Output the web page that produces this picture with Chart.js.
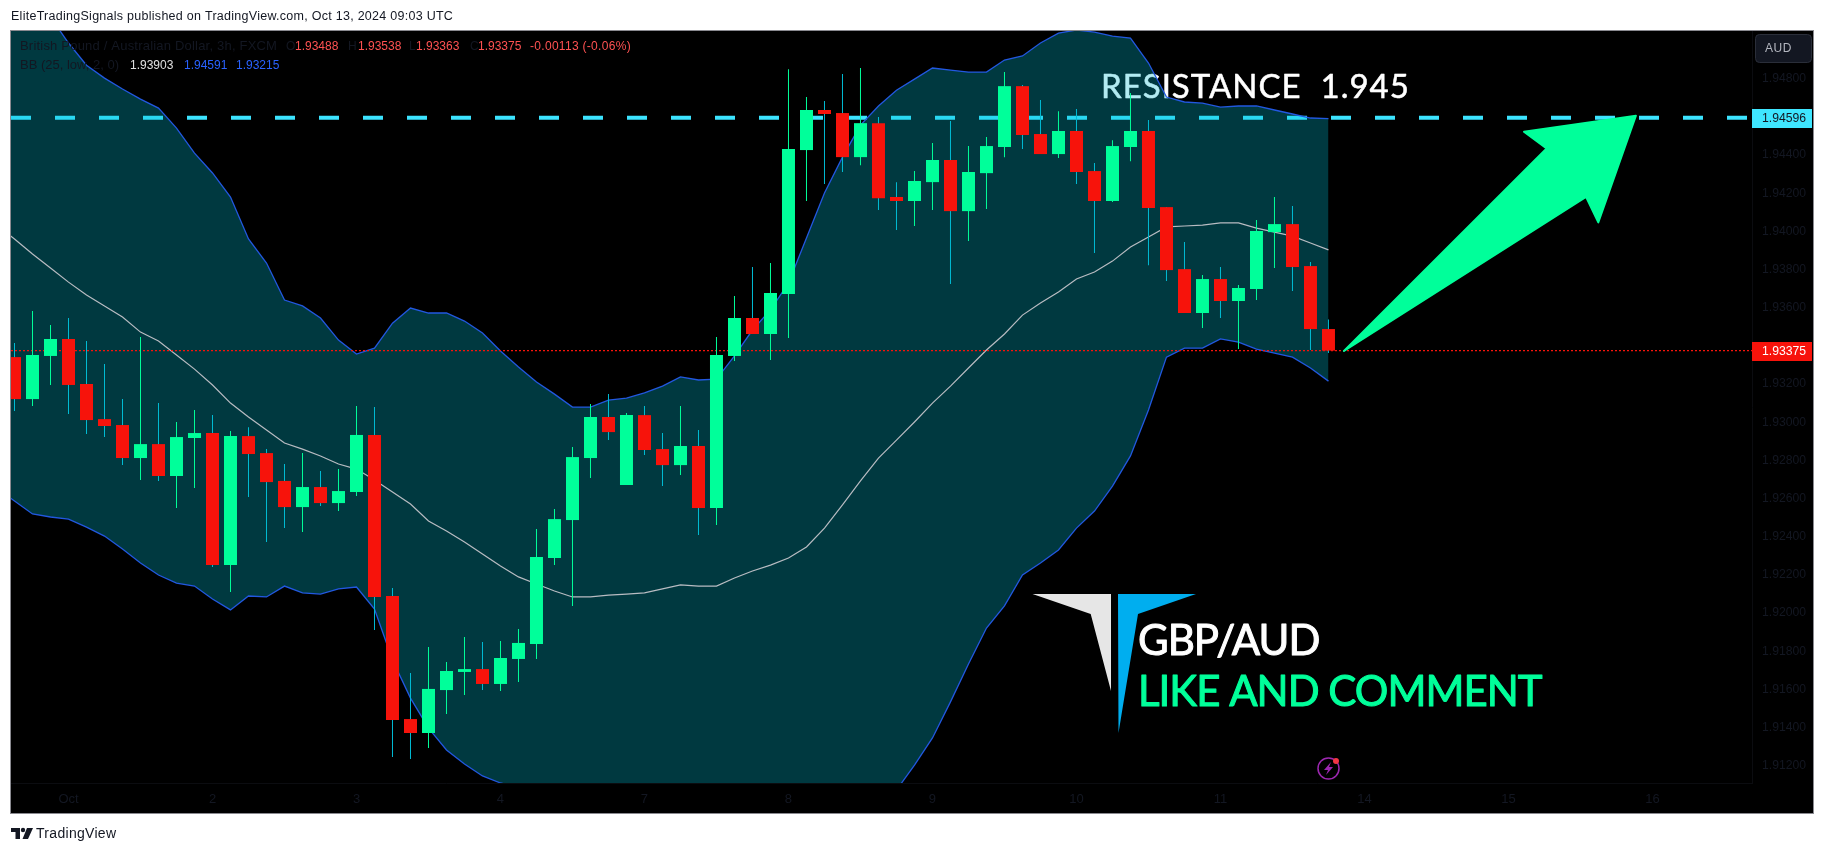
<!DOCTYPE html>
<html>
<head>
<meta charset="utf-8">
<title>GBP/AUD</title>
<script src="https://cdn.jsdelivr.net/npm/chart.js@4/dist/chart.umd.min.js"></script>
<style>
  html, body { margin: 0; padding: 0; background: #ffffff; }
  canvas { display: block; }
</style>
</head>
<body>
<canvas id="grafico" width="1825" height="853"></canvas>
<script>
var opens = [1.93341,1.93121,1.93347,1.93436,1.93200,1.93016,1.92985,1.92812,1.92885,1.92718,
  1.92917,1.92943,1.92251,1.92927,1.92838,1.92692,1.92555,1.92660,1.92576,1.92634,
  1.92933,1.92089,1.91444,1.91371,1.91596,1.91691,1.91706,1.91628,1.91759,1.91837,
  1.92288,1.92487,1.92812,1.93027,1.92671,1.93037,1.92859,1.92775,1.92875,1.92550,
  1.93347,1.93546,1.93462,1.93672,1.94426,1.94636,1.94620,1.94389,1.94567,1.94180,
  1.94159,1.94258,1.94374,1.94106,1.94305,1.94442,1.94761,1.94510,1.94405,1.94526,
  1.94316,1.94159,1.94442,1.94526,1.94127,1.93802,1.93572,1.93750,1.93635,1.93698,
  1.93996,1.94038,1.93818,1.93488]
var highs = [1.93415,1.93582,1.93509,1.93546,1.93425,1.93305,1.93121,1.93446,1.93100,1.93001,
  1.93064,1.93037,1.92954,1.92974,1.92859,1.92781,1.92838,1.92744,1.92754,1.93085,
  1.93079,1.92131,1.91686,1.91822,1.91743,1.91874,1.91848,1.91853,1.91916,1.92440,
  1.92545,1.92870,1.93095,1.93147,1.93048,1.93085,1.92943,1.93085,1.92959,1.93446,
  1.93661,1.93813,1.93834,1.94850,1.94704,1.94683,1.94824,1.94856,1.94599,1.94258,
  1.94316,1.94463,1.94578,1.94447,1.94494,1.94835,1.94767,1.94688,1.94630,1.94641,
  1.94358,1.94478,1.94725,1.94583,1.94127,1.93944,1.93771,1.93813,1.93719,1.94059,
  1.94180,1.94133,1.93839,1.93538]
var lows = [1.93058,1.93085,1.93195,1.93043,1.92938,1.92922,1.92775,1.92697,1.92692,1.92550,
  1.92655,1.92241,1.92110,1.92608,1.92372,1.92445,1.92424,1.92561,1.92534,1.92613,
  1.91911,1.91245,1.91235,1.91292,1.91471,1.91570,1.91596,1.91591,1.91638,1.91759,
  1.92251,1.92037,1.92707,1.92906,1.92671,1.92828,1.92665,1.92723,1.92409,1.92461,
  1.93320,1.93462,1.93326,1.93441,1.94159,1.94248,1.94311,1.94347,1.94112,1.94007,
  1.94028,1.94112,1.93724,1.93949,1.94117,1.94389,1.94431,1.94405,1.94384,1.94248,
  1.93886,1.94154,1.94368,1.93823,1.93740,1.93572,1.93493,1.93546,1.93383,1.93640,
  1.93808,1.93687,1.93378,1.93363]
var closes = [1.93121,1.93352,1.93436,1.93195,1.93011,1.92980,1.92812,1.92885,1.92718,1.92922,
  1.92943,1.92251,1.92927,1.92833,1.92686,1.92555,1.92660,1.92576,1.92639,1.92933,
  1.92084,1.91439,1.91371,1.91602,1.91696,1.91706,1.91628,1.91764,1.91843,1.92293,
  1.92492,1.92817,1.93027,1.92948,1.93037,1.92854,1.92775,1.92875,1.92550,1.93352,
  1.93546,1.93462,1.93677,1.94431,1.94636,1.94615,1.94389,1.94567,1.94174,1.94159,
  1.94264,1.94374,1.94106,1.94311,1.94447,1.94761,1.94505,1.94405,1.94526,1.94311,
  1.94159,1.94447,1.94526,1.94122,1.93797,1.93572,1.93750,1.93635,1.93703,1.94002,
  1.94038,1.93813,1.93488,1.93375]

// bollinger bands, first value is the bar just left of the pane
var bbUpper = [1.95290,1.95238,1.95186,1.95123,1.94987,1.94871,1.94803,1.94746,1.94693,1.94646,
  1.94541,1.94410,1.94306,1.94180,1.93960,1.93834,1.93640,1.93609,1.93546,1.93430,
  1.93357,1.93388,1.93519,1.93598,1.93572,1.93572,1.93530,1.93467,1.93373,1.93289,
  1.93210,1.93147,1.93079,1.93079,1.93116,1.93126,1.93153,1.93189,1.93237,1.93221,
  1.93226,1.93347,1.93483,1.93588,1.93729,1.93965,1.94201,1.94389,1.94557,1.94657,
  1.94740,1.94798,1.94856,1.94845,1.94835,1.94835,1.94898,1.94919,1.94987,1.95039,
  1.95055,1.95044,1.95023,1.95013,1.94882,1.94704,1.94678,1.94672,1.94651,1.94657,
  1.94657,1.94636,1.94615,1.94594,1.94591]
var bbMiddle = [1.94033,1.93960,1.93881,1.93808,1.93734,1.93666,1.93609,1.93551,1.93472,1.93425,
  1.93352,1.93278,1.93195,1.93100,1.93027,1.92959,1.92891,1.92859,1.92823,1.92781,
  1.92754,1.92697,1.92634,1.92571,1.92482,1.92430,1.92372,1.92309,1.92246,1.92189,
  1.92152,1.92115,1.92084,1.92084,1.92094,1.92099,1.92105,1.92126,1.92147,1.92141,
  1.92141,1.92183,1.92220,1.92251,1.92288,1.92346,1.92445,1.92566,1.92692,1.92812,
  1.92906,1.93001,1.93100,1.93189,1.93284,1.93378,1.93462,1.93561,1.93624,1.93682,
  1.93750,1.93787,1.93844,1.93918,1.93970,1.94023,1.94028,1.94033,1.94044,1.94044,
  1.94017,1.93996,1.93975,1.93939,1.93903]
var bbLower = [1.92655,1.92587,1.92519,1.92503,1.92492,1.92450,1.92403,1.92335,1.92262,1.92199,
  1.92157,1.92141,1.92073,1.92016,1.92089,1.92084,1.92141,1.92105,1.92099,1.92126,
  1.92136,1.92021,1.91754,1.91554,1.91397,1.91282,1.91209,1.91146,1.91109,1.91088,
  1.91093,1.91083,1.91088,1.91088,1.91072,1.91072,1.91057,1.91062,1.91057,1.91062,
  1.91057,1.91020,1.90957,1.90915,1.90847,1.90727,1.90690,1.90742,1.90826,1.90968,
  1.91072,1.91203,1.91345,1.91534,1.91733,1.91921,1.92037,1.92199,1.92262,1.92330,
  1.92445,1.92534,1.92665,1.92823,1.93064,1.93341,1.93388,1.93388,1.93436,1.93420,
  1.93383,1.93362,1.93341,1.93284,1.93215]

var precoTicks = [1.948,1.944,1.942,1.940,1.938,1.936,1.932,1.930,1.928,1.926,1.924,1.922,1.920,1.918,1.916,1.914,1.912]
var tempoTicks = [3,11,19,27,35,43,51,59,67,75,83,91]
var tempoLabels = ['Oct','2','3','4','7','8','9','10','11','14','15','16']
var resistencia = 1.94596
var ultimoPreco = 1.93375

// arrow on the chart, [bar, price]
var seta = [[73.86,1.93373],[85.12,1.94435],[83.86,1.94522],[90.08,1.94606],[87.99,1.94047],[87.31,1.94181]]

var xMin = -0.1944
var xMax = 96.53

var VERDE = '#00ff9a'
var VERMELHO = '#f7130b'
var PAVIO_ALTA = '#00ff9a'
var PAVIO_BAIXA = '#00bcd4'
var APAGADO = '#131722'
var fonte = '"Liberation Sans", Arial, sans-serif'
var fonteGrande = 'Lato, "Noto Sans", sans-serif'

function pontos(lista) {
  return lista.map(function (v, i) { return { x: i - 1, y: v } })
}

var legendaTopo = [
  ['British Pound / Australian Dollar, 3h, FXCM', 20, APAGADO, '13px', '0.2px'],
  ['O', 286, APAGADO, '12px', '0px'], ['1.93488', 295, '#ff5252', '12px', '0px'],
  ['H', 348, APAGADO, '12px', '0px'], ['1.93538', 358, '#ff5252', '12px', '0px'],
  ['L', 409, APAGADO, '12px', '0px'], ['1.93363', 416, '#ff5252', '12px', '0px'],
  ['C', 470, APAGADO, '12px', '0px'], ['1.93375', 478, '#ff5252', '12px', '0px'],
  ['-0.00113 (-0.06%)', 530, '#ff5252', '12px', '0.3px']
]
var legendaBB = [
  ['BB (25, low, 2, 0)', 20, APAGADO, '13px', '0px'],
  ['1.93903', 130, '#e0e0e0', '12px', '0px'],
  ['1.94591', 184, '#2962ff', '12px', '0px'],
  ['1.93215', 236, '#2962ff', '12px', '0px']
]

function texto(ctx, t, x, y, font, cor, espaco, traco) {
  ctx.font = font
  ctx.letterSpacing = espaco || '0px'
  ctx.fillStyle = cor
  ctx.textAlign = 'left'
  ctx.textBaseline = 'middle'
  ctx.fillText(t, x, y)
  if (traco) {
    ctx.strokeStyle = cor
    ctx.lineWidth = traco
    ctx.lineJoin = 'round'
    ctx.strokeText(t, x, y)
  }
  ctx.letterSpacing = '0px'
}

function poligono(ctx, pts, cor) {
  ctx.beginPath()
  pts.forEach(function (p, i) {
    if (i == 0) ctx.moveTo(p[0], p[1])
    else ctx.lineTo(p[0], p[1])
  })
  ctx.closePath()
  ctx.fillStyle = cor
  ctx.fill()
}

var pintura = {
  id: 'pintura',
  beforeDraw: function (chart) {
    var ctx = chart.ctx
    ctx.fillStyle = '#ffffff'
    ctx.fillRect(0, 0, 1825, 853)
    ctx.fillStyle = '#000000'
    ctx.fillRect(11, 31, 1802, 782)
    ctx.strokeStyle = '#8a8a90'
    ctx.lineWidth = 1
    ctx.strokeRect(10.5, 30.5, 1803, 783)
    texto(ctx, 'EliteTradingSignals published on TradingView.com, Oct 13, 2024 09:03 UTC', 11, 16.5, '12.5px ' + fonte, '#131722', '0.27px')
    texto(ctx, 'TradingView', 36, 834.5, '14px ' + fonte, '#131722', '0.3px')
    // tv logo
    poligono(ctx, [[11,828],[20,828],[20,839],[15.5,839],[15.5,832],[11,832]], '#131722')
    poligono(ctx, [[27,828],[33,828],[28,839],[22.5,839]], '#131722')
    ctx.beginPath()
    ctx.arc(23, 830, 2.2, 0, Math.PI * 2)
    ctx.fill()
  },
  // under the band fill, it shows through
  beforeDatasetsDraw: function (chart) {
    var ctx = chart.ctx
    texto(ctx, 'RESISTANCE  1.945', 1101, 87, '33px ' + fonteGrande, '#ffffff', '1px', 0.5)
  },
  afterDatasetsDraw: function (chart) {
    var ctx = chart.ctx
    var xs = chart.scales.x
    var ys = chart.scales.y

    legendaTopo.forEach(function (p) { texto(ctx, p[0], p[1], 46.5, p[3] + ' ' + fonte, p[2], p[4]) })
    legendaBB.forEach(function (p) { texto(ctx, p[0], p[1], 65.5, p[3] + ' ' + fonte, p[2], p[4]) })

    ctx.lineJoin = 'round'
    ctx.lineWidth = 2
    ctx.strokeStyle = VERDE
    var pts = seta.map(function (p) { return [xs.getPixelForValue(p[0]), ys.getPixelForValue(p[1])] })
    poligono(ctx, pts, VERDE)
    ctx.stroke()

    // logo
    poligono(ctx, [[1032.5,594],[1111,594],[1111,691],[1090.7,614]], '#e6e6e6')
    poligono(ctx, [[1118,594],[1196,594],[1138,614],[1118.5,733]], '#00aeef')

    texto(ctx, 'GBP/AUD', 1138, 641, '42px ' + fonteGrande, '#ffffff', '-1px', 1)
    texto(ctx, 'LIKE AND COMMENT', 1138, 692, '42px ' + fonteGrande, VERDE, '-1px', 1)

    // bolt icon
    ctx.beginPath()
    ctx.arc(1328.5, 768.5, 10.5, 0, Math.PI * 2)
    ctx.strokeStyle = '#9c27b0'
    ctx.lineWidth = 1.5
    ctx.stroke()
    poligono(ctx, [[1331,762],[1324,770],[1328,770],[1326,775],[1333,767],[1329,767]], '#9c27b0')
    ctx.beginPath()
    ctx.arc(1336, 761, 3, 0, Math.PI * 2)
    ctx.fillStyle = '#f23645'
    ctx.fill()
  },
  afterDraw: function (chart) {
    var ctx = chart.ctx
    var ys = chart.scales.y
    var yr = Math.round(ys.getPixelForValue(resistencia))
    ctx.fillStyle = '#3fe6ff'
    ctx.fillRect(1752, yr - 9, 60, 19)
    texto(ctx, resistencia.toFixed(5), 1762, yr + 1, '12.2px ' + fonte, APAGADO)
    var yp = Math.round(ys.getPixelForValue(ultimoPreco))
    ctx.fillStyle = VERMELHO
    ctx.fillRect(1752, yp - 9, 60, 19)
    texto(ctx, ultimoPreco.toFixed(5), 1762, yp + 1, '12.2px ' + fonte, '#ffffff')

    ctx.beginPath()
    ctx.roundRect(1755.5, 34.5, 56, 28, 4)
    ctx.fillStyle = APAGADO
    ctx.fill()
    ctx.strokeStyle = '#2a2e39'
    ctx.lineWidth = 1
    ctx.stroke()
    texto(ctx, 'AUD', 1765, 48.5, '12px ' + fonte, '#b2b5be', '0.5px')
  }
}

var barras = opens.map(function (v, i) { return i })

new Chart(document.getElementById('grafico'), {
  type: 'bar',
  plugins: [pintura],
  data: {
    datasets: [
      {
        type: 'line',
        label: 'Resistance',
        data: [{ x: xMin, y: resistencia }, { x: xMax, y: resistencia }],
        borderColor: '#3ce4ff',
        borderWidth: 4,
        borderDash: [20, 24],
        pointRadius: 0,
        order: 7
      },
      {
        type: 'line',
        label: 'BB upper',
        data: pontos(bbUpper),
        borderColor: '#2258e0',
        borderWidth: 1.3,
        pointRadius: 0,
        fill: '+1',
        backgroundColor: 'rgba(0, 188, 212, 0.3)',
        order: 6
      },
      {
        type: 'line',
        label: 'BB lower',
        data: pontos(bbLower),
        borderColor: '#2258e0',
        borderWidth: 1.3,
        pointRadius: 0,
        order: 5
      },
      {
        type: 'line',
        label: 'BB middle',
        data: pontos(bbMiddle),
        borderColor: '#b8bcc2',
        borderWidth: 1.2,
        pointRadius: 0,
        order: 4
      },
      {
        type: 'line',
        label: 'Last price',
        data: [{ x: xMin, y: ultimoPreco }, { x: xMax, y: ultimoPreco }],
        borderColor: VERMELHO,
        borderWidth: 1.2,
        borderDash: [2, 2],
        pointRadius: 0,
        order: 3
      },
      {
        label: 'Wick',
        data: barras.map(function (i) { return { x: i, y: [lows[i], highs[i]] } }),
        backgroundColor: barras.map(function (i) { return closes[i] >= opens[i] ? PAVIO_ALTA : PAVIO_BAIXA }),
        barThickness: 1,
        grouped: false,
        inflateAmount: 0,
        borderWidth: 0,
        order: 2
      },
      {
        label: 'Body',
        data: barras.map(function (i) { return { x: i, y: [opens[i], closes[i]] } }),
        backgroundColor: barras.map(function (i) { return closes[i] >= opens[i] ? VERDE : VERMELHO }),
        barThickness: 13,
        grouped: false,
        inflateAmount: 0,
        borderWidth: 0,
        order: 1
      }
    ]
  },
  options: {
    responsive: false,
    animation: false,
    layout: { autoPadding: false, padding: { left: 11, top: 31, right: 13, bottom: 40 } },
    plugins: { legend: { display: false }, tooltip: { enabled: false }, title: { display: false } },
    scales: {
      x: {
        type: 'linear',
        offset: false,
        min: xMin,
        max: xMax,
        grid: { display: false, drawTicks: false },
        border: { color: '#0b0c10' },
        afterFit: function (s) { s.height = 30 },
        afterBuildTicks: function (s) { s.ticks = tempoTicks.map(function (v) { return { value: v } }) },
        ticks: {
          autoSkip: false,
          maxRotation: 0,
          padding: 9,
          color: APAGADO,
          font: { family: fonte, size: 13 },
          callback: function (v) { return tempoLabels[tempoTicks.indexOf(v)] }
        }
      },
      y: {
        type: 'linear',
        position: 'right',
        min: 1.91109,
        max: 1.95050,
        grid: { display: false, drawTicks: false },
        border: { color: '#0b0c10' },
        afterFit: function (s) { s.width = 60 },
        afterBuildTicks: function (s) { s.ticks = precoTicks.map(function (v) { return { value: v } }) },
        ticks: {
          autoSkip: false,
          padding: 10,
          color: APAGADO,
          font: { family: fonte, size: 12.2 },
          callback: function (v) { return v.toFixed(5) }
        }
      }
    }
  }
})
</script>
</body>
</html>
